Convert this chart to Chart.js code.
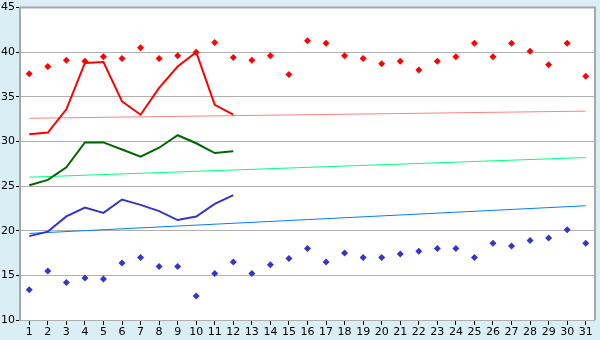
<!DOCTYPE html>
<html lang="en">
<head>
  <meta charset="UTF-8">
  <title>Daily temperatures</title>
  <style>
    html, body { margin: 0; padding: 0; background: #d9eef5; }
    .chart-box { width: 600px; height: 340px; }
  </style>
</head>
<body>
  <div class="chart-box">
    <canvas id="tempChart" width="600" height="340"></canvas>
  </div>

  <script src="https://cdn.jsdelivr.net/npm/chart.js"></script>
  <script>
    // days of the month
    const days = [];
    for (let d = 1; d <= 31; d++) days.push(String(d));

    // scattered daily highs / lows
    const dailyMax = [37.6, 38.4, 39.1, 39.0, 39.5, 39.3, 40.5, 39.3, 39.6, 40.0,
                      41.1, 39.4, 39.1, 39.6, 37.5, 41.3, 41.0, 39.6, 39.3, 38.7,
                      39.0, 38.0, 39.0, 39.5, 41.0, 39.5, 41.0, 40.1, 38.6, 41.0, 37.3];
    const dailyMin = [13.4, 15.5, 14.2, 14.7, 14.6, 16.4, 17.0, 16.0, 16.0, 12.7,
                      15.2, 16.5, 15.2, 16.2, 16.9, 18.0, 16.5, 17.5, 17.0, 17.0,
                      17.4, 17.7, 18.0, 18.0, 17.0, 18.6, 18.3, 18.9, 19.2, 20.1, 18.6];

    // lines for the first 12 days
    const highLine = [30.8, 31.0, 33.6, 38.8, 38.9, 34.5, 33.0, 36.0, 38.4, 40.0, 34.1, 33.0];
    const midLine  = [25.1, 25.7, 27.1, 29.9, 29.9, 29.1, 28.3, 29.3, 30.7, 29.8, 28.7, 28.9];
    const lowLine  = [19.4, 19.9, 21.6, 22.6, 22.0, 23.5, 22.9, 22.2, 21.2, 21.6, 23.0, 24.0];

    // trend lines: value at day 1 and at day 31
    const trendHigh = [32.6, 33.4];
    const trendMid  = [26.0, 28.2];
    const trendLow  = [19.7, 22.8];

    const yTicks = [10, 15, 20, 25, 30, 35, 40, 45];

    function ends(pair) {
      return [{ x: days[0], y: pair[0] }, { x: days[days.length - 1], y: pair[1] }];
    }

    // white plot area + top/right frame
    const frame = {
      id: 'frame',
      beforeDraw(chart) {
        const { ctx, chartArea: a } = chart;
        ctx.save();
        ctx.fillStyle = '#d9eef5';
        ctx.fillRect(0, 0, chart.width, chart.height);
        ctx.fillStyle = '#ffffff';
        ctx.fillRect(a.left, a.top, a.right - a.left, a.bottom - a.top);
        ctx.restore();
      },
      afterDraw(chart) {
        const { ctx, chartArea: a } = chart;
        ctx.save();
        ctx.strokeStyle = '#a8a8a8';
        ctx.lineWidth = 2;
        ctx.beginPath();
        ctx.moveTo(a.left, a.top);
        ctx.lineTo(a.right, a.top);
        ctx.lineTo(a.right, a.bottom);
        ctx.stroke();
        ctx.restore();
      }
    };

    const ctx = document.getElementById('tempChart').getContext('2d');
    new Chart(ctx, {
      type: 'line',
      data: {
        labels: days,
        datasets: [
          { data: highLine, borderColor: '#ff0000', borderWidth: 2, pointRadius: 0, order: 1 },
          { data: midLine, borderColor: '#006600', borderWidth: 2, pointRadius: 0, order: 1 },
          { data: lowLine, borderColor: '#3535cc', borderWidth: 2, pointRadius: 0, order: 1 },
          { data: ends(trendHigh), borderColor: '#ff8080', borderWidth: 1, pointRadius: 0, order: 3 },
          { data: ends(trendMid), borderColor: '#00ff80', borderWidth: 1, pointRadius: 0, order: 3 },
          { data: ends(trendLow), borderColor: '#0080ff', borderWidth: 1, pointRadius: 0, order: 3 },
          { data: dailyMax, showLine: false, pointStyle: 'rectRot', pointRadius: 3.5, borderWidth: 0,
            backgroundColor: '#ff0000', borderColor: '#ff0000', order: 2 },
          { data: dailyMin, showLine: false, pointStyle: 'rectRot', pointRadius: 3.5, borderWidth: 0,
            backgroundColor: '#3535cc', borderColor: '#3535cc', order: 2 }
        ]
      },
      options: {
        responsive: false,
        animation: false,
        layout: { padding: { top: 5, right: 5, left: 0, bottom: 0 } },
        plugins: { legend: { display: false }, tooltip: { enabled: false } },
        elements: { line: { tension: 0 } },
        scales: {
          x: {
            offset: true,
            afterFit(scale) { scale.height = 20; },
            grid: { drawOnChartArea: false, tickLength: 5, tickColor: '#000000', offset: false },
            border: { display: false },
            ticks: {
              autoSkip: false, maxRotation: 0, padding: 1, color: '#000000',
              font: { family: 'DejaVu Sans', size: 11 }
            }
          },
          y: {
            min: 10,
            max: 45,
            afterFit(scale) { scale.width = 20; },
            afterBuildTicks(scale) { scale.ticks = yTicks.map(v => ({ value: v })); },
            grid: { color: '#b0b0b0', tickColor: '#000000', tickLength: 4 },
            border: { color: '#a8a8a8', width: 2 },
            ticks: { padding: 1, color: '#000000', font: { family: 'DejaVu Sans', size: 11 } }
          }
        }
      },
      plugins: [frame]
    });
  </script>
</body>
</html>
